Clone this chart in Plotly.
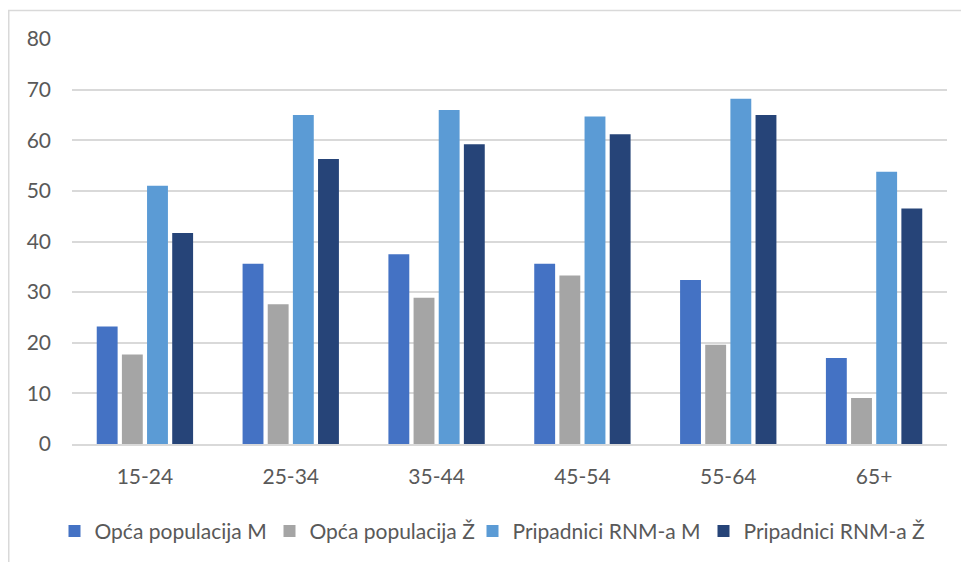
import plotly.graph_objects as go

categories = ["15-24", "25-34", "35-44", "45-54", "55-64", "65+"]
series_names = ["Opća populacija M", "Opća populacija Ž", "Pripadnici RNM-a M", "Pripadnici RNM-a Ž"]
opca_m = [23.2, 35.6, 37.5, 35.6, 32.4, 17.0]
opca_z = [17.7, 27.6, 28.9, 33.3, 19.6, 9.1]
rnm_m = [51.0, 65.0, 66.0, 64.7, 68.2, 53.8]
rnm_z = [41.7, 56.3, 59.2, 61.2, 65.0, 46.5]
colors = ["#4472C4", "#A5A5A5", "#5B9BD5", "#264478"]
y_ticks = [0, 10, 20, 30, 40, 50, 60, 70, 80]

legend_entry_px = [170, 158, 186, 186]  # style: legend spacing per entry

fig = go.Figure()
for name, vals, col, lw in zip(series_names, [opca_m, opca_z, rnm_m, rnm_z], colors, legend_entry_px):
    fig.add_trace(go.Bar(x=categories, y=vals, name=name, legendwidth=lw,
                         marker=dict(color=col, line=dict(width=0))))

W, H = 961, 554
ml, mr, mt, mb = 64, 22, 31, 118
pw = W - ml - mr
ph = H - mt - mb

fig.update_layout(
    width=W, height=H,
    margin=dict(l=ml, r=mr, t=mt, b=mb, autoexpand=False),
    paper_bgcolor="white", plot_bgcolor="white",
    barmode="group", bargap=0.31, bargroupgap=0.17,
    font=dict(family="Lato, 'Open Sans', sans-serif", color="#595959", size=21),
    xaxis=dict(showgrid=False, showline=True, linecolor="#D9D9D9", linewidth=1.5,
               ticks="", tickfont=dict(size=21, color="#595959"), ticklabelstandoff=13),
    yaxis=dict(range=[0, 80], tickvals=y_ticks, showgrid=True, gridcolor="#D9D9D9", gridwidth=1.5,
               zeroline=False, showline=False, ticks="", tickfont=dict(size=21, color="#595959"),
               ticklabelstandoff=20),
    legend=dict(orientation="h", x=-0.02, xanchor="left", y=-0.165, yanchor="top",
                font=dict(size=21, color="#595959"), itemwidth=30, traceorder="normal"),
    showlegend=True,
)

# outer chart border
fig.add_shape(type="rect", xref="paper", yref="paper",
              x0=(0.75 - ml) / pw, x1=(W + 5 - ml) / pw,
              y0=-(mb + 10) / ph, y1=1 + (mt - 2.5) / ph,
              line=dict(color="#D9D9D9", width=1.5), layer="below")

fig.write_html("out.html")
